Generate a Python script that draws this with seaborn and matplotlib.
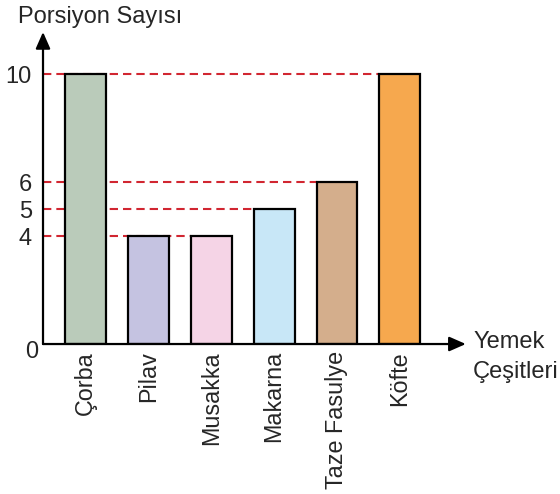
import matplotlib
matplotlib.use("Agg")

import matplotlib.pyplot as plt
import seaborn as sns
import pandas as pd

# chart data
yemekler = ["Çorba", "Pilav", "Musakka", "Makarna", "Taze Fasulye", "Köfte"]
porsiyon = [10, 4, 4, 5, 6, 10]
renkler = ["#bacbba", "#c5c3e1", "#f5d4e6", "#c8e7f7", "#d4ae8c", "#f6a84e"]
y_ticks = [4, 5, 6, 10]

sns.set_style("white")
plt.rcParams["font.family"] = ["Liberation Sans", "DejaVu Sans"]

df = pd.DataFrame({"yemek": yemekler, "porsiyon": porsiyon})

fig = plt.figure(figsize=(5.6, 4.94), dpi=100)
ax = fig.add_axes([0.0768, 0.3036, 0.755, 0.6316])

bar_w = 0.65
sns.barplot(
    data=df, x="yemek", y="porsiyon", hue="yemek", palette=renkler,
    legend=False, width=bar_w, edgecolor="black", linewidth=1.6,
    saturation=1, ax=ax, zorder=2,
)

x_left, x_right = -0.676, 6.05
ax.set_xlim(x_left, x_right)
ax.set_ylim(0, 11.56)

# dashed guide lines up to the last bar of each value
for v in y_ticks:
    last = max(i for i, p in enumerate(porsiyon) if p == v)
    ax.hlines(v, x_left, last - bar_w / 2, colors="#d12631", linewidth=1.5,
              linestyles=(0, (4, 2.4)), zorder=1)

for s in ax.spines.values():
    s.set_visible(False)

# axis arrows
arrow = dict(arrowstyle="-|>,head_length=0.5,head_width=0.22", lw=1.6,
             color="black", mutation_scale=20, shrinkA=0, shrinkB=0)
ax.annotate("", xy=(1, 0), xytext=(0, 0), xycoords="axes fraction",
            arrowprops=arrow, annotation_clip=False)
ax.annotate("", xy=(0, 1), xytext=(0, 0), xycoords="axes fraction",
            arrowprops=arrow, annotation_clip=False)

ax.set_yticks(y_ticks)
ax.set_yticklabels([str(t) for t in y_ticks], fontsize=17)
ax.tick_params(axis="y", length=0, pad=8)
ax.tick_params(axis="x", length=0, pad=5, labelsize=16.8)
plt.setp(ax.get_xticklabels(), rotation=90, va="top", ha="center")
ax.set_xlabel("")
ax.set_ylabel("")

fig.text(38 / 560, (494 - 341) / 494, "0", fontsize=17, ha="right", va="top")
fig.text(18 / 560, (494 - 23) / 494, "Porsiyon Sayısı", fontsize=17,
         ha="left", va="baseline")
fig.text(473 / 560, (494 - 348) / 494, "Yemek", fontsize=17,
         ha="left", va="baseline")
fig.text(473 / 560, (494 - 378) / 494, "Çeşitleri", fontsize=17,
         ha="left", va="baseline")

plt.savefig("out.png", dpi=100)
plt.close()
